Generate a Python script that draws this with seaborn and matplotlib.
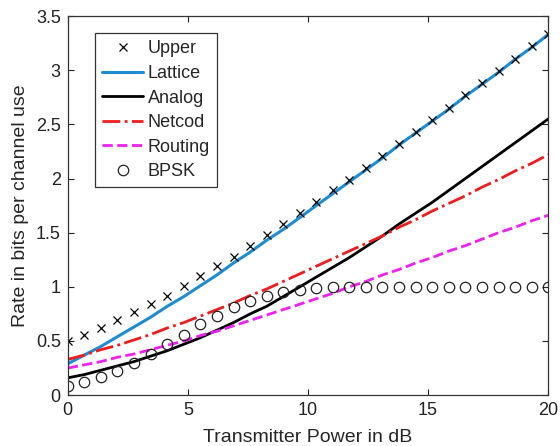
import numpy as np
import pandas as pd
import matplotlib
matplotlib.use("Agg")
import matplotlib.pyplot as plt
import seaborn as sns

# Transmitter power (dB) sample points
power_db = [0, 0.69, 1.38, 2.07, 2.76, 3.45, 4.14, 4.83, 5.52, 6.21,
            6.90, 7.59, 8.28, 8.97, 9.66, 10.34, 11.03, 11.72, 12.41, 13.10,
            13.79, 14.48, 15.17, 15.86, 16.55, 17.24, 17.93, 18.62, 19.31, 20]

# Rates (bits per channel use)
upper = [0.50, 0.56, 0.62, 0.69, 0.77, 0.84, 0.92, 1.01, 1.10, 1.19,
         1.28, 1.38, 1.48, 1.58, 1.68, 1.78, 1.89, 1.99, 2.10, 2.21,
         2.32, 2.43, 2.54, 2.65, 2.77, 2.88, 2.99, 3.10, 3.22, 3.33]
lattice = [0.29, 0.37, 0.45, 0.54, 0.63, 0.72, 0.82, 0.91, 1.01, 1.11,
           1.22, 1.32, 1.43, 1.53, 1.64, 1.75, 1.86, 1.97, 2.08, 2.19,
           2.31, 2.42, 2.53, 2.64, 2.76, 2.87, 2.98, 3.10, 3.21, 3.33]
analog = [0.16, 0.19, 0.23, 0.27, 0.31, 0.36, 0.41, 0.47, 0.53, 0.60,
          0.67, 0.75, 0.82, 0.91, 1.00, 1.09, 1.18, 1.27, 1.37, 1.47,
          1.58, 1.68, 1.78, 1.89, 2.00, 2.11, 2.22, 2.33, 2.44, 2.55]
netcod = [0.33, 0.37, 0.42, 0.46, 0.51, 0.56, 0.62, 0.67, 0.73, 0.79,
          0.85, 0.92, 0.98, 1.05, 1.12, 1.19, 1.26, 1.33, 1.40, 1.47,
          1.55, 1.62, 1.70, 1.77, 1.84, 1.92, 1.99, 2.07, 2.14, 2.22]
routing = [0.25, 0.28, 0.31, 0.35, 0.38, 0.42, 0.46, 0.50, 0.55, 0.59,
           0.64, 0.69, 0.74, 0.79, 0.84, 0.89, 0.94, 1.00, 1.05, 1.11,
           1.16, 1.22, 1.27, 1.33, 1.38, 1.44, 1.50, 1.55, 1.61, 1.66]
bpsk = [0.085, 0.12, 0.165, 0.225, 0.30, 0.38, 0.47, 0.56, 0.655, 0.735,
        0.81, 0.865, 0.915, 0.955, 0.975, 0.99, 0.995, 1.0, 1.0, 1.0,
        1.0, 1.0, 1.0, 1.0, 1.0, 1.0, 1.0, 1.0, 1.0, 1.0]

df = pd.DataFrame({"power": power_db, "Upper": upper, "Lattice": lattice,
                   "Analog": analog, "Netcod": netcod, "Routing": routing,
                   "BPSK": bpsk})

sns.set_style("ticks")
plt.rcParams["font.family"] = ["Liberation Sans", "DejaVu Sans"]

fig = plt.figure(figsize=(5.6, 4.46), dpi=100)
ax = fig.add_axes([0.121, 0.114, 0.858, 0.850])

sns.lineplot(data=df, x="power", y="Lattice", ax=ax, color="#1f8bd0",
             linewidth=2.2, label="Lattice")
sns.lineplot(data=df, x="power", y="Analog", ax=ax, color="black",
             linewidth=2.0, label="Analog")
sns.lineplot(data=df, x="power", y="Netcod", ax=ax, color="#ee1c1c",
             linewidth=2.0, linestyle="-.", label="Netcod")
sns.lineplot(data=df, x="power", y="Routing", ax=ax, color="#f020f0",
             linewidth=2.0, linestyle="--", label="Routing")
ax.plot(df["power"], df["Upper"], linestyle="none", marker="x",
        markersize=5.5, markeredgewidth=0.9, color="black", label="Upper")
ax.plot(df["power"], df["BPSK"], linestyle="none", marker="o",
        markersize=7.5, markerfacecolor="none", markeredgewidth=0.9,
        markeredgecolor="#222222", label="BPSK")

ax.set_xlim(0, 20)
ax.set_ylim(0, 3.5)
ax.set_xticks([0, 5, 10, 15, 20])
ax.set_yticks([0, 0.5, 1, 1.5, 2, 2.5, 3, 3.5])
ax.set_yticklabels(["0", "0.5", "1", "1.5", "2", "2.5", "3", "3.5"])
ax.set_xlabel("Transmitter Power in dB", fontsize=14, labelpad=7)
ax.set_ylabel("Rate in bits per channel use", fontsize=14, labelpad=5)
ax.tick_params(direction="in", length=4, width=0.8, labelsize=13,
               top=True, right=True, pad=5, colors="#222222")
for sp in ax.spines.values():
    sp.set_linewidth(0.9)
    sp.set_color("#333333")

handles, labels = ax.get_legend_handles_labels()
order = ["Upper", "Lattice", "Analog", "Netcod", "Routing", "BPSK"]
hmap = dict(zip(labels, handles))
leg = ax.legend([hmap[k] for k in order], order, loc="upper left",
                bbox_to_anchor=(0.056, 0.955), borderaxespad=0,
                fontsize=13, frameon=True, fancybox=False, edgecolor="black",
                handlelength=2.3, handletextpad=0.25, labelspacing=0.42,
                borderpad=0.4)
leg.get_frame().set_linewidth(0.9)

fig.savefig("out.png", dpi=100)
